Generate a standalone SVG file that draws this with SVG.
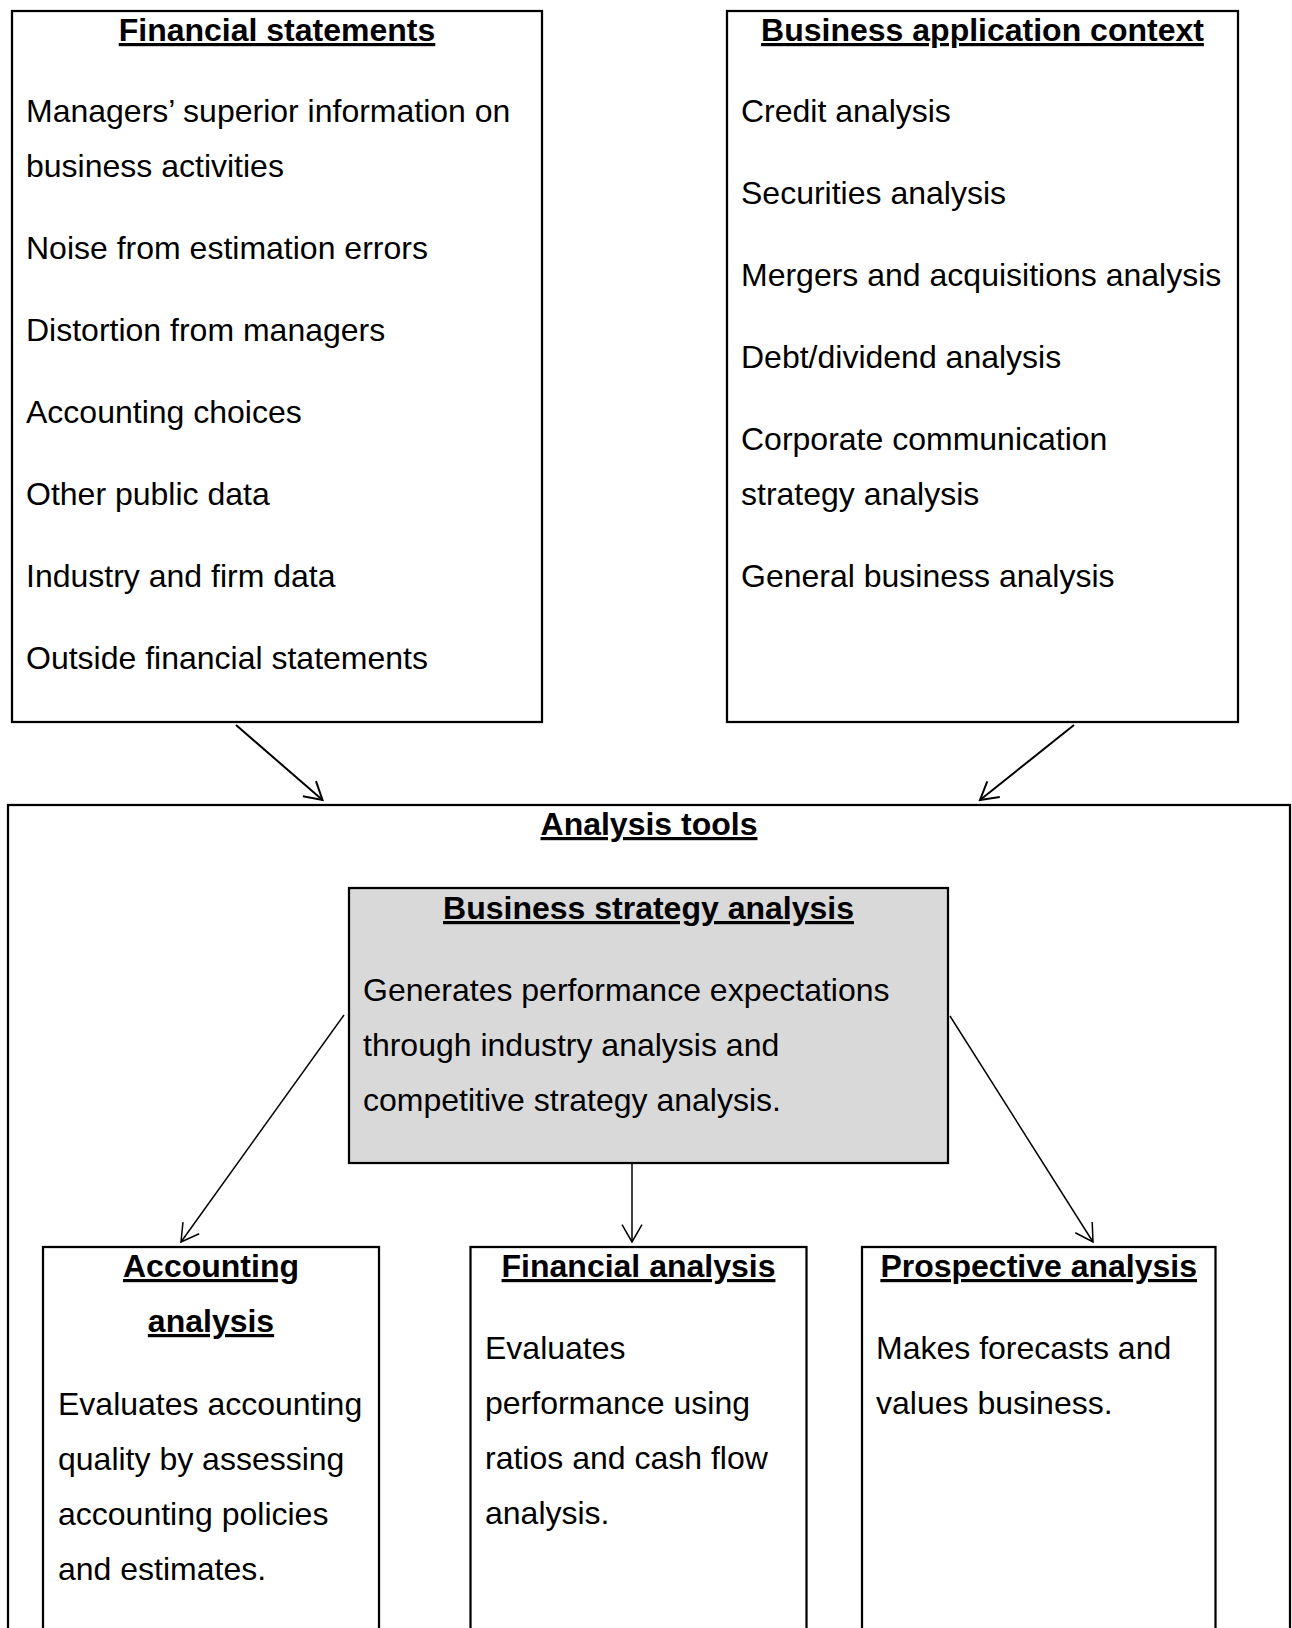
<svg xmlns="http://www.w3.org/2000/svg" width="1292" height="1628" viewBox="0 0 1292 1628">
  <defs>
    <style>
      .box { fill: #ffffff; stroke: #000000; stroke-width: 2.25; }
      .shade { fill: #d9d9d9; stroke: #000000; stroke-width: 2.25; }
      text { font-family: "Liberation Sans", Arial, Helvetica, sans-serif; font-size: 32px; fill: #000000; }
      .head { font-weight: bold; text-anchor: middle; text-decoration: underline; text-decoration-thickness: 3px; text-underline-offset: 4px; }
      .link { fill: none; stroke: #000000; stroke-width: 1.5; }
      .link.thick { stroke-width: 2; }
    </style>
    <marker id="tip" markerUnits="userSpaceOnUse" refX="0" refY="0" markerWidth="24" markerHeight="24" orient="auto" overflow="visible">
      <path d="M-17.3,-10 L0,0 L-17.3,10" fill="none" stroke="#000000" stroke-width="1.5"/>
    </marker>
    <marker id="tipThick" markerUnits="userSpaceOnUse" refX="0" refY="0" markerWidth="24" markerHeight="24" orient="auto" overflow="visible">
      <path d="M-17.3,-10 L0,0 L-17.3,10" fill="none" stroke="#000000" stroke-width="2"/>
    </marker>
  </defs>

  <rect width="1292" height="1628" fill="#ffffff"/>

  <!-- Inputs: financial statements -->
  <g id="financial-statements">
    <rect class="box" x="12" y="11" width="530" height="711"/>
    <text class="head" x="277" y="41">Financial statements</text>
    <text x="26" y="122">Managers’ superior information on</text>
    <text x="26" y="177">business activities</text>
    <text x="26" y="259">Noise from estimation errors</text>
    <text x="26" y="341">Distortion from managers</text>
    <text x="26" y="423">Accounting choices</text>
    <text x="26" y="505">Other public data</text>
    <text x="26" y="587">Industry and firm data</text>
    <text x="26" y="669">Outside financial statements</text>
  </g>

  <!-- Inputs: business application context -->
  <g id="business-application-context">
    <rect class="box" x="727" y="11" width="511" height="711"/>
    <text class="head" x="982.5" y="41">Business application context</text>
    <text x="741" y="122">Credit analysis</text>
    <text x="741" y="204">Securities analysis</text>
    <text x="741" y="286">Mergers and acquisitions analysis</text>
    <text x="741" y="368">Debt/dividend analysis</text>
    <text x="741" y="450">Corporate communication</text>
    <text x="741" y="505">strategy analysis</text>
    <text x="741" y="587">General business analysis</text>
  </g>

  <!-- Container for the analysis tools (open at the bottom edge) -->
  <g id="analysis-tools">
    <rect class="box" x="8" y="805" width="1282" height="860"/>
    <text class="head" x="649" y="835">Analysis tools</text>
  </g>

  <g id="business-strategy-analysis">
    <rect class="shade" x="349" y="888" width="599" height="275"/>
    <text class="head" x="648.5" y="919">Business strategy analysis</text>
    <text x="363" y="1001">Generates performance expectations</text>
    <text x="363" y="1056">through industry analysis and</text>
    <text x="363" y="1111">competitive strategy analysis.</text>
  </g>

  <g id="accounting-analysis">
    <rect class="box" x="43" y="1247" width="336" height="420"/>
    <text class="head" x="211" y="1277">Accounting</text>
    <text class="head" x="211" y="1332">analysis</text>
    <text x="58" y="1415">Evaluates accounting</text>
    <text x="58" y="1470">quality by assessing</text>
    <text x="58" y="1525">accounting policies</text>
    <text x="58" y="1580">and estimates.</text>
  </g>

  <g id="financial-analysis">
    <rect class="box" x="470.5" y="1247" width="336" height="420"/>
    <text class="head" x="638.5" y="1277">Financial analysis</text>
    <text x="485" y="1359">Evaluates</text>
    <text x="485" y="1414">performance using</text>
    <text x="485" y="1469">ratios and cash flow</text>
    <text x="485" y="1524">analysis.</text>
  </g>

  <g id="prospective-analysis">
    <rect class="box" x="862" y="1247" width="353.5" height="420"/>
    <text class="head" x="1038.7" y="1277">Prospective analysis</text>
    <text x="876" y="1359">Makes forecasts and</text>
    <text x="876" y="1414">values business.</text>
  </g>

  <!-- Connectors -->
  <g id="connectors">
    <line class="link thick" x1="236" y1="725" x2="322.5" y2="800" marker-end="url(#tipThick)"/>
    <line class="link thick" x1="1074" y1="725" x2="980" y2="800" marker-end="url(#tipThick)"/>
    <line class="link" x1="344" y1="1015" x2="181" y2="1242" marker-end="url(#tip)"/>
    <line class="link" x1="632" y1="1163" x2="632" y2="1242" marker-end="url(#tip)"/>
    <line class="link" x1="950" y1="1016" x2="1093" y2="1242" marker-end="url(#tip)"/>
  </g>
</svg>
